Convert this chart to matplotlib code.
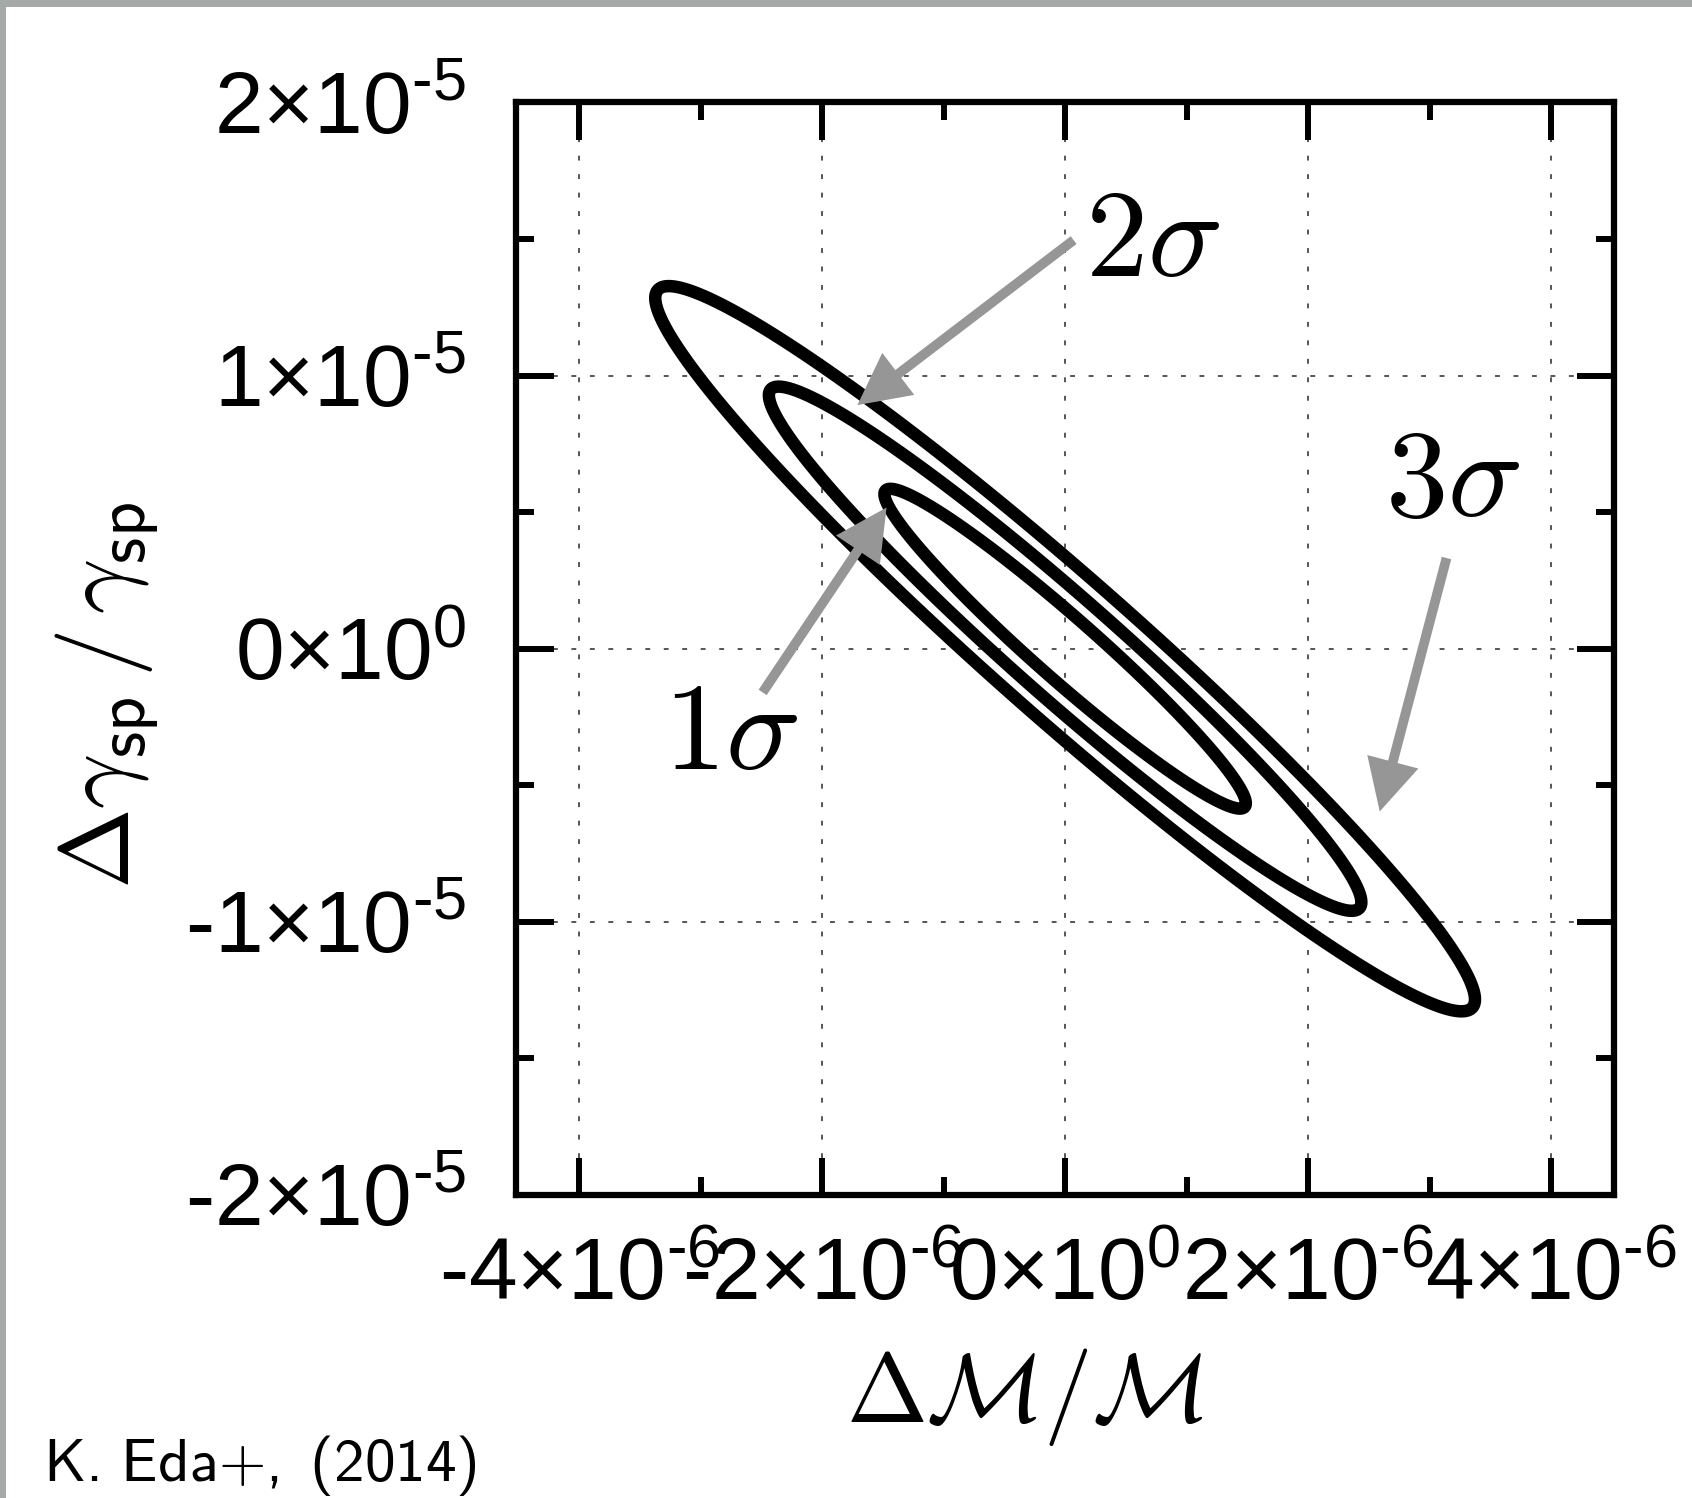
import numpy as np
import matplotlib.pyplot as plt
from matplotlib.patches import Rectangle
from matplotlib.ticker import MultipleLocator, FuncFormatter

# errors (Fisher matrix ellipses)
sigma_m = 0.981e-6     # Delta M / M
sigma_g = 3.86e-6      # Delta gamma_sp / gamma_sp
rho = -0.967
levels = [2.30, 6.18, 11.83]   # delta chi^2, 2 parameters

sig_labels = [r"$1\sigma$", r"$2\sigma$", r"$3\sigma$"]
label_pos = [(-3.31e-6, -0.44e-5), (0.16e-6, 1.366e-5), (2.63e-6, 0.486e-5)]
arrow_tail = [(-2.49e-6, -0.16e-5), (0.07e-6, 1.496e-5), (3.14e-6, 0.332e-5)]
arrow_head = [(-1.47e-6, 0.517e-5), (-1.71e-6, 0.892e-5), (2.59e-6, -0.596e-5)]

xticks = [-4e-6, -2e-6, 0, 2e-6, 4e-6]
yticks = [-2e-5, -1e-5, 0, 1e-5, 2e-5]
xlim = (-4.52e-6, 4.52e-6)
ylim = (-2e-5, 2e-5)

plt.rcParams["mathtext.fontset"] = "custom"
plt.rcParams["mathtext.rm"] = "Liberation Sans"
plt.rcParams["mathtext.it"] = "Liberation Sans:italic"
plt.rcParams["mathtext.bf"] = "Liberation Sans:bold"
plt.rcParams["mathtext.sf"] = "cmss10"
plt.rcParams["font.family"] = "Liberation Sans"


def sci_label(v, pos):
    if v == 0:
        m, e = 0, 0
    else:
        e = int(np.floor(np.log10(abs(v)) + 1e-9))
        m = int(round(v / 10.0**e))
    return r"$\text{%d}{\times}10^{\text{%d}}$" % (m, e)


fig = plt.figure(figsize=(16.92, 14.98), dpi=100)
ax = fig.add_axes([0.305, 0.2023, 0.649, 0.7293])

# chi^2 surface and contours
cov = np.array([[sigma_m**2, rho * sigma_m * sigma_g],
                [rho * sigma_m * sigma_g, sigma_g**2]])
icov = np.linalg.inv(cov)
xs = np.linspace(xlim[0], xlim[1], 900)
ys = np.linspace(ylim[0], ylim[1], 900)
X, Y = np.meshgrid(xs, ys)
chi2 = icov[0, 0] * X**2 + 2 * icov[0, 1] * X * Y + icov[1, 1] * Y**2
ax.contour(X, Y, chi2, levels=levels, colors="black", linewidths=9)

for lab, (tx, ty), tail, head in zip(sig_labels, label_pos, arrow_tail, arrow_head):
    ax.annotate("", xy=head, xytext=tail,
                arrowprops=dict(arrowstyle="simple,head_length=3.7,head_width=3.8,tail_width=0.7",
                                mutation_scale=10, color="#969696", lw=0,
                                shrinkA=0, shrinkB=0))
    ax.text(tx, ty, lab, fontsize=90, ha="left", va="baseline", math_fontfamily="cm")

ax.set_xlim(*xlim)
ax.set_ylim(*ylim)
ax.set_xticks(xticks)
ax.set_yticks(yticks)
ax.xaxis.set_minor_locator(MultipleLocator(1e-6))
ax.yaxis.set_minor_locator(MultipleLocator(0.5e-5))
ax.xaxis.set_major_formatter(FuncFormatter(sci_label))
ax.yaxis.set_major_formatter(FuncFormatter(sci_label))
ax.tick_params(which="both", direction="in", top=True, right=True, width=4.3, labelsize=63)
ax.tick_params(which="major", length=27)
ax.tick_params(which="minor", length=13)
ax.tick_params(axis="x", pad=30)
ax.tick_params(axis="y", pad=36)
for s in ax.spines.values():
    s.set_linewidth(4.5)

ax.set_axisbelow(True)
ax.grid(True, which="major", color="#555555", linestyle=(0, (2.5, 7)), linewidth=1.4)

ax.set_xlabel(r"$\Delta\mathcal{M}/\mathcal{M}$", fontsize=70, math_fontfamily="cm")
ax.xaxis.set_label_coords(0.4636, -0.185)
ax.xaxis.label.set_va("center")
ax.set_ylabel(r"$\Delta\gamma_{\mathsf{sp}}\,/\,\gamma_{\mathsf{sp}}$", fontsize=70, math_fontfamily="cm")
ax.yaxis.set_label_coords(-0.372, 0.457)
ax.yaxis.label.set_va("center")

fig.text(43 / 1692, 17 / 1498, r"$\mathsf{K.\,Eda{+},\ (2014)}$", fontsize=44,
         ha="left", va="baseline", math_fontfamily="custom")

# grey frame on the left and top edges
fig.add_artist(Rectangle((0, 0), 6 / 1692, 1, transform=fig.transFigure, color="#a5aaa8", lw=0))
fig.add_artist(Rectangle((0, 1 - 7 / 1498), 1, 7 / 1498, transform=fig.transFigure, color="#a5aaa8", lw=0))

fig.savefig("out.png", dpi=100)
